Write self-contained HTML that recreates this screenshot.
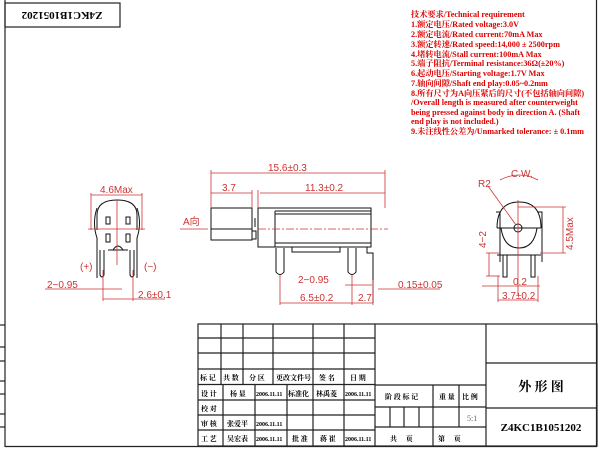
<!DOCTYPE html><html><head><meta charset="utf-8"><style>body{margin:0;background:#fff}svg{display:block}
.r{fill:#d00;font-family:"Liberation Serif","Noto Serif CJK SC",serif;font-weight:bold}
.d{fill:#c33;font-family:"Liberation Sans",sans-serif;font-size:10px}
.b{font-family:"Liberation Serif","Noto Serif CJK SC",serif;font-weight:bold;fill:#000}
</style></head><body>
<svg width="600" height="450" viewBox="0 0 600 450" xmlns="http://www.w3.org/2000/svg">
<g stroke="#222" fill="none" stroke-width="1.2">
<line x1="5" y1="0" x2="5" y2="447"/><line x1="5" y1="446.5" x2="597" y2="446.5"/><line x1="596.5" y1="0" x2="596.5" y2="447"/>
<rect x="5" y="3" width="115" height="24"/>
<line x1="0" y1="325" x2="5" y2="325"/><line x1="0" y1="347" x2="5" y2="347"/><line x1="0" y1="361" x2="5" y2="361"/><line x1="0" y1="381" x2="5" y2="381"/><line x1="0" y1="394" x2="5" y2="394"/><line x1="0" y1="414" x2="5" y2="414"/><line x1="0" y1="427" x2="5" y2="427"/>
<rect x="198" y="324" width="399" height="122"/>
<line x1="198" y1="338" x2="375" y2="338"/><line x1="198" y1="353" x2="375" y2="353"/><line x1="198" y1="369" x2="375" y2="369"/><line x1="198" y1="384.5" x2="375" y2="384.5"/><line x1="198" y1="400" x2="375" y2="400"/><line x1="198" y1="415" x2="375" y2="415"/><line x1="198" y1="430" x2="375" y2="430"/>
<line x1="221" y1="324" x2="221" y2="384"/><line x1="243" y1="324" x2="243" y2="384"/><line x1="273" y1="324" x2="273" y2="384"/><line x1="313" y1="324" x2="313" y2="446"/><line x1="344" y1="324" x2="344" y2="446"/><line x1="375" y1="324" x2="375" y2="446"/>
<line x1="223" y1="384" x2="223" y2="446"/><line x1="255" y1="384" x2="255" y2="446"/><line x1="287" y1="384" x2="287" y2="446"/>
<line x1="486" y1="324" x2="486" y2="446"/><line x1="486" y1="363" x2="597" y2="363"/><line x1="486" y1="408" x2="597" y2="408"/>
<line x1="375" y1="385" x2="486" y2="385"/><line x1="375" y1="407" x2="486" y2="407"/><line x1="375" y1="427" x2="486" y2="427"/>
<line x1="433" y1="385" x2="433" y2="446"/><line x1="459" y1="385" x2="459" y2="427"/>
<line x1="390" y1="407" x2="390" y2="427"/><line x1="404" y1="407" x2="404" y2="427"/><line x1="419" y1="407" x2="419" y2="427"/>
</g>
<text x="62" y="20" class="b" font-size="11" text-anchor="middle" transform="rotate(180 62 16)">Z4KC1B1051202</text>
<g class="b" font-size="7">
<text x="200" y="380">标 记</text><text x="223" y="380">共 数</text><text x="249" y="380">分 区</text><text x="276" y="380">更改文件号</text><text x="319" y="380">签 名</text><text x="350" y="380">日 期</text>
<text x="201" y="396">设 计</text><text x="230" y="396">杨 显</text><text x="256" y="396" font-size="6">2006.11.11</text><text x="288" y="396">标准化</text><text x="316" y="396">林禹菱</text><text x="345" y="396" font-size="6">2006.11.11</text>
<text x="201" y="411">校 对</text>
<text x="201" y="426">审 核</text><text x="227" y="426">张爱平</text><text x="256" y="426" font-size="6">2006.11.11</text>
<text x="201" y="441">工 艺</text><text x="227" y="441">吴宏表</text><text x="256" y="441" font-size="6">2006.11.11</text><text x="292" y="441">批 准</text><text x="320" y="441">蒋 崔</text><text x="345" y="441" font-size="6">2006.11.11</text>
<text x="385" y="399">阶 段 标 记</text><text x="439" y="399">重 量</text><text x="462" y="399">比 例</text>
<text x="390" y="441">共　 页</text><text x="438" y="441">第　 页</text>
</g>
<text x="467" y="421" font-size="8" fill="#666" font-family="Liberation Serif,serif">5:1</text>
<text x="541" y="391" class="b" font-size="13" text-anchor="middle">外 形 图</text>
<text x="541" y="431" class="b" font-size="11" text-anchor="middle">Z4KC1B1051202</text>
<g class="r" font-size="8.2">
<text x="411" y="17">技术要求/Technical requirement</text>
<text x="411" y="27">1.额定电压/Rated voltage:3.0V</text>
<text x="411" y="37">2.额定电流/Rated current:70mA Max</text>
<text x="411" y="47">3.额定转速/Rated speed:14,000 ± 2500rpm</text>
<text x="411" y="57">4.堵转电流/Stall current:100mA Max</text>
<text x="411" y="66">5.端子阻抗/Terminal resistance:36Ω(±20%)</text>
<text x="411" y="76">6.起动电压/Starting voltage:1.7V  Max</text>
<text x="411" y="86">7.轴向间隙/Shaft end play:0.05~0.2mm</text>
<text x="411" y="96">8.所有尺寸为A向压紧后的尺寸(不包括轴向间隙)</text>
<text x="411" y="105">/Overall length is measured after counterweight</text>
<text x="411" y="115">being pressed against body in direction A. (Shaft</text>
<text x="411" y="124">end play is not included.)</text>
<text x="411" y="134">9.未注线性公差为/Unmarked tolerance: ± 0.1mm</text>
</g>
<!-- side view -->
<g stroke="#111" fill="none" stroke-width="1">
<rect x="211" y="208" width="41" height="32"/><line x1="211" y1="229" x2="252" y2="229"/>
<rect x="252" y="231" width="4" height="8"/>
<rect x="258" y="208" width="113" height="39"/>
<line x1="275" y1="211" x2="371" y2="211"/><line x1="275" y1="211" x2="275" y2="247"/><line x1="275" y1="214" x2="371" y2="214"/>
<line x1="275" y1="243" x2="371" y2="243"/>
<path d="M292 247v5h48v-5M367 247v6h6v50"/>
<path d="M276 248v24q4 5 8 0v-24M348 248v24q4 5 8 0v-24"/>
<line x1="255" y1="218" x2="255" y2="227"/>
</g>
<line x1="258" y1="229" x2="388" y2="229" stroke="#c33" stroke-dasharray="8,2,2,2" stroke-width=".8"/>
<g stroke="#c33" stroke-width=".8" fill="#c33">
<line x1="211" y1="170" x2="211" y2="208"/><line x1="385" y1="170" x2="385" y2="208"/><line x1="211" y1="173" x2="385" y2="173"/>
<line x1="211" y1="193" x2="252" y2="193"/><line x1="252" y1="190" x2="252" y2="208"/><line x1="258" y1="190" x2="258" y2="208"/><line x1="260" y1="193" x2="385" y2="193"/>
<line x1="180" y1="229" x2="208" y2="229"/>
<line x1="280" y1="275" x2="280" y2="305"/><line x1="352" y1="275" x2="352" y2="305"/><line x1="373" y1="280" x2="373" y2="305"/><line x1="280" y1="303" x2="373" y2="303"/>
<line x1="345" y1="285" x2="372" y2="285"/><line x1="378" y1="289" x2="440" y2="289"/>
</g>
<text x="268" y="171" class="d">15.6±0.3</text><text x="222" y="191" class="d">3.7</text><text x="305" y="191" class="d">11.3±0.2</text>
<text x="183" y="225" class="d">A向</text><text x="298" y="283" class="d">2−0.95</text><text x="300" y="301" class="d">6.5±0.2</text><text x="358" y="301" class="d">2.7</text><text x="398" y="288" class="d">0.15±0.05</text>
<!-- left view -->
<g stroke="#111" fill="none" stroke-width="1">
<path d="M97 230v-15q0-15 20-15t20 15v15"/>
<path d="M97 208q-5 15 0 30v40M137 208q5 15 0 30v40"/>
<path d="M106 217h4v7h-4zM126 217h4v7h-4zM106 234h4v8h-4zM126 234h4v8h-4zM108 250h20M113 250q5-8 10 0"/>
<path d="M100 250v25q2 4 4 0v-25M130 250v25q2 4 4 0v-25"/>
</g>
<g stroke="#c33" stroke-width=".8"><line x1="91" y1="193" x2="91" y2="230"/><line x1="142" y1="193" x2="142" y2="230"/><line x1="91" y1="195" x2="142" y2="195"/><line x1="117" y1="200" x2="117" y2="265"/><line x1="88" y1="229" x2="145" y2="229"/><line x1="45" y1="289" x2="122" y2="289"/><line x1="103" y1="270" x2="103" y2="301"/><line x1="133" y1="270" x2="133" y2="301"/><line x1="103" y1="299" x2="165" y2="299"/></g>
<text x="100" y="193" class="d">4.6Max</text><text x="80" y="270" class="d" font-size="8">(+)</text><text x="144" y="270" class="d" font-size="8">(−)</text>
<text x="47" y="288" class="d">2−0.95</text><text x="138" y="298" class="d">2.6±0.1</text>
<!-- right view -->
<g stroke="#111" fill="none" stroke-width="1">
<path d="M497 228q0-26 22-26t22 26M497 228h44M501 228q3 20 18 20t18-20M496 212h4v50M538 212h4v50"/><circle cx="518" cy="228" r="4"/>
<path d="M503 255v22h4v-22M531 255v22h4v-22M497 255h44"/>
</g>
<g stroke="#c33" stroke-width=".8" fill="none"><path d="M500 180q19-10 38 0"/><line x1="488" y1="186" x2="516" y2="225"/><line x1="518" y1="200" x2="518" y2="295"/><line x1="518" y1="207" x2="566" y2="207"/><line x1="540" y1="253" x2="566" y2="253"/><line x1="563" y1="207" x2="563" y2="253"/><line x1="486" y1="253" x2="500" y2="253"/><line x1="486" y1="276" x2="500" y2="276"/><line x1="489" y1="253" x2="489" y2="276"/><line x1="482" y1="286" x2="540" y2="286"/><line x1="498" y1="300" x2="538" y2="300"/><line x1="498" y1="276" x2="498" y2="302"/><line x1="538" y1="276" x2="538" y2="302"/></g>
<text x="511" y="177" class="d" font-size="7">C.W.</text><text x="478" y="187" class="d">R2</text>
<text x="0" y="0" class="d" transform="translate(573 250) rotate(-90)">4.5Max</text>
<text x="0" y="0" class="d" transform="translate(486 248) rotate(-90)">4−2</text>
<text x="513" y="285" class="d">0.2</text><text x="502" y="299" class="d">3.7±0.2</text>
</svg></body></html>
